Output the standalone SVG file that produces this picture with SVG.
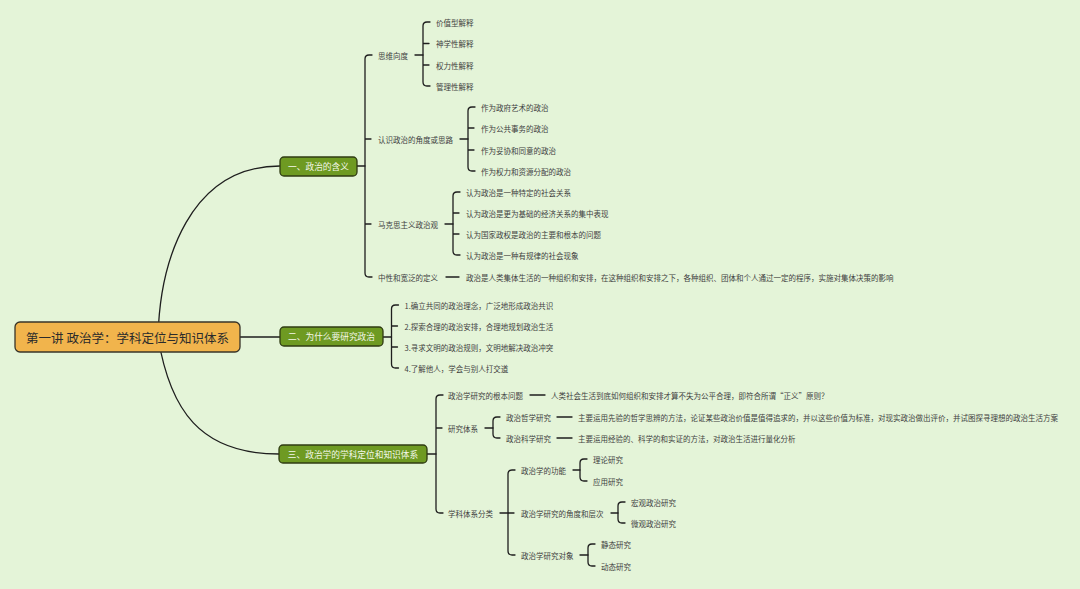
<svg xmlns="http://www.w3.org/2000/svg" width="1080" height="589" viewBox="0 0 1080 589">
<style>
.t{font-family:"Noto Sans CJK SC","Noto Sans",sans-serif;font-size:7.5px;fill:#3f3f3f;dominant-baseline:central}
.n{font-family:"Noto Sans CJK SC","Noto Sans",sans-serif;font-size:8.7px;fill:#f4f8ea;dominant-baseline:central;text-anchor:middle}
.r{font-family:"Noto Sans CJK SC","Noto Sans",sans-serif;font-size:12.5px;fill:#2b2b2b;dominant-baseline:central;text-anchor:middle}
.c{fill:none;stroke:#1e1e1e;stroke-width:1.3;stroke-linecap:round;stroke-linejoin:round}
.nb{fill:#6e9a22;stroke:#2f3b12;stroke-width:1.3}
.rb{fill:#f1b44c;stroke:#383428;stroke-width:1.3}
</style>
<rect width="1080" height="589" fill="#e4f4d8"/>
<g id="connectors" class="c">
<path d="M158,337 C160,260 190,166 280,166"/>
<path d="M158,337 C170,410 200,454 279,454"/>
<path d="M240,337 H280"/>
<!-- node 1 -->
<path d="M357,166 H365"/>
<path d="M372,55 H369 Q365,55 365,59 V273 Q365,277 369,277 H372 M365,139 H371 M365,224 H371"/>
<path d="M415,55 H423"/>
<path d="M430,22 H427 Q423,22 423,26 V82 Q423,86 427,86 H430 M423,43.5 H429 M423,65 H429"/>
<path d="M460,139 H468"/>
<path d="M475,107 H472 Q468,107 468,111 V167 Q468,171 472,171 H475 M468,128 H474 M468,150 H474"/>
<path d="M445,224 H453"/>
<path d="M460,192 H457 Q453,192 453,196 V251 Q453,255 457,255 H460 M453,213 H459 M453,234 H459"/>
<path d="M446,277 H459"/>
<!-- node 2 -->
<path d="M383,337 H391.5"/>
<path d="M398.5,305 H395.5 Q391.5,305 391.5,309 V364 Q391.5,368 395.5,368 H398.5 M391.5,326 H397.5 M391.5,347 H397.5"/>
<!-- node 3 -->
<path d="M427,454 H436"/>
<path d="M443,395 H440 Q436,395 436,399 V509 Q436,513 440,513 H443 M436,428 H442"/>
<path d="M530,395 H545"/>
<path d="M485,428 H493"/>
<path d="M500,417 H497 Q493,417 493,421 V434 Q493,438 497,438 H500"/>
<path d="M557,417 H572"/>
<path d="M557,438 H572"/>
<path d="M500,513 H508"/>
<path d="M515,470 H512 Q508,470 508,474 V551 Q508,555 512,555 H515 M508,513 H514"/>
<path d="M573,470 H580"/>
<path d="M587,459 H584 Q580,459 580,463 V477 Q580,481 584,481 H587"/>
<path d="M611,513 H618"/>
<path d="M625,502 H622 Q618,502 618,506 V519 Q618,523 622,523 H625"/>
<path d="M580,555 H588"/>
<path d="M595,544 H592 Q588,544 588,548 V562 Q588,566 592,566 H595"/>
</g>
<g id="root"><rect class="rb" x="15" y="322" width="225" height="30" rx="5"/><text class="r" x="127.5" y="337">第一讲 政治学：学科定位与知识体系</text></g>
<g id="n1"><rect class="nb" x="280" y="157" width="77" height="19" rx="4"/><text class="n" x="318.5" y="166.5">一、政治的含义</text></g>
<g id="n2"><rect class="nb" x="280" y="327" width="103" height="19" rx="4"/><text class="n" x="331.5" y="336.5">二、为什么要研究政治</text></g>
<g id="n3"><rect class="nb" x="279" y="445" width="148" height="18" rx="4"/><text class="n" x="353" y="454">三、政治学的学科定位和知识体系</text></g>
<g id="n1-1"><text class="t" x="378" y="55">思维向度</text></g>
<g id="n1-1-1"><text class="t" x="436" y="22">价值型解释</text></g>
<g id="n1-1-2"><text class="t" x="436" y="43.5">神学性解释</text></g>
<g id="n1-1-3"><text class="t" x="436" y="65">权力性解释</text></g>
<g id="n1-1-4"><text class="t" x="436" y="86">管理性解释</text></g>
<g id="n1-2"><text class="t" x="378" y="139">认识政治的角度或思路</text></g>
<g id="n1-2-1"><text class="t" x="481" y="107">作为政府艺术的政治</text></g>
<g id="n1-2-2"><text class="t" x="481" y="128">作为公共事务的政治</text></g>
<g id="n1-2-3"><text class="t" x="481" y="150">作为妥协和同意的政治</text></g>
<g id="n1-2-4"><text class="t" x="481" y="171">作为权力和资源分配的政治</text></g>
<g id="n1-3"><text class="t" x="378" y="224">马克思主义政治观</text></g>
<g id="n1-3-1"><text class="t" x="466" y="192">认为政治是一种特定的社会关系</text></g>
<g id="n1-3-2"><text class="t" x="466" y="213">认为政治是更为基础的经济关系的集中表现</text></g>
<g id="n1-3-3"><text class="t" x="466" y="234">认为国家政权是政治的主要和根本的问题</text></g>
<g id="n1-3-4"><text class="t" x="466" y="255">认为政治是一种有规律的社会现象</text></g>
<g id="n1-4"><text class="t" x="378" y="277">中性和宽泛的定义</text></g>
<g id="n1-4-1"><text class="t" x="466" y="277">政治是人类集体生活的一种组织和安排，在这种组织和安排之下，各种组织、团体和个人通过一定的程序，实施对集体决策的影响</text></g>
<g id="n2-1"><text class="t" x="404.5" y="305">1.确立共同的政治理念，广泛地形成政治共识</text></g>
<g id="n2-2"><text class="t" x="404.5" y="326">2.探索合理的政治安排，合理地规划政治生活</text></g>
<g id="n2-3"><text class="t" x="404.5" y="347">3.寻求文明的政治规则，文明地解决政治冲突</text></g>
<g id="n2-4"><text class="t" x="404.5" y="368">4.了解他人，学会与别人打交道</text></g>
<g id="n3-1"><text class="t" x="448" y="395">政治学研究的根本问题</text></g>
<g id="n3-1-1"><text class="t" x="551" y="395">人类社会生活到底如何组织和安排才算不失为公平合理，即符合所谓“正义”原则？</text></g>
<g id="n3-2"><text class="t" x="448" y="428">研究体系</text></g>
<g id="n3-2-1"><text class="t" x="506" y="417">政治哲学研究</text></g>
<g id="n3-2-1-1"><text class="t" x="578" y="417">主要运用先验的哲学思辨的方法，论证某些政治价值是值得追求的，并以这些价值为标准，对现实政治做出评价，并试图探寻理想的政治生活方案</text></g>
<g id="n3-2-2"><text class="t" x="506" y="438">政治科学研究</text></g>
<g id="n3-2-2-1"><text class="t" x="578" y="438">主要运用经验的、科学的和实证的方法，对政治生活进行量化分析</text></g>
<g id="n3-3"><text class="t" x="448" y="513">学科体系分类</text></g>
<g id="n3-3-1"><text class="t" x="521" y="470">政治学的功能</text></g>
<g id="n3-3-1-1"><text class="t" x="593" y="459">理论研究</text></g>
<g id="n3-3-1-2"><text class="t" x="593" y="481">应用研究</text></g>
<g id="n3-3-2"><text class="t" x="521" y="513">政治学研究的角度和层次</text></g>
<g id="n3-3-2-1"><text class="t" x="631" y="502">宏观政治研究</text></g>
<g id="n3-3-2-2"><text class="t" x="631" y="523">微观政治研究</text></g>
<g id="n3-3-3"><text class="t" x="521" y="555">政治学研究对象</text></g>
<g id="n3-3-3-1"><text class="t" x="601" y="544">静态研究</text></g>
<g id="n3-3-3-2"><text class="t" x="601" y="566">动态研究</text></g>
</svg>
